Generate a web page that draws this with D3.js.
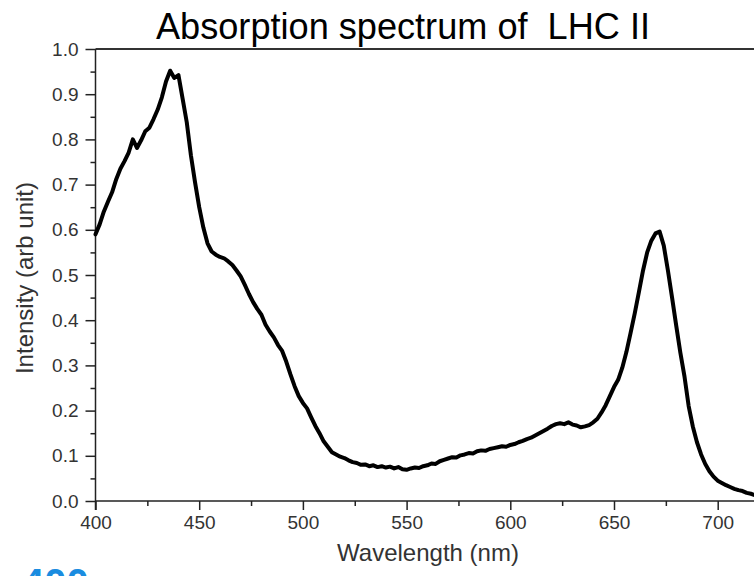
<!DOCTYPE html>
<html>
<head>
<meta charset="utf-8">
<script src="https://cdn.jsdelivr.net/npm/d3@7"></script>
<style>
  html, body { margin: 0; padding: 0; background: #fff; }
  svg { display: block; }
  text { font-family: "Liberation Sans", Arial, sans-serif; }
</style>
</head>
<body>
<svg id="chart" width="754" height="576"></svg>
<script>
// ---- data ----
const wavelength = [
  400,402,404,406,408,410,412,414,416,418,420,422,424,426,428,430,432,434,436,438,
  440,442,444,446,448,450,452,454,456,458,460,462,464,466,468,470,472,474,476,478,
  480,482,484,486,488,490,492,494,496,498,500,502,504,506,508,510,512,514,516,518,
  520,522,524,526,528,530,532,534,536,538,540,542,544,546,548,550,552,554,556,558,
  560,562,564,566,568,570,572,574,576,578,580,582,584,586,588,590,592,594,596,598,
  600,602,604,606,608,610,612,614,616,618,620,622,624,626,628,630,632,634,636,638,
  640,642,644,646,648,650,652,654,656,658,660,662,664,666,668,670,672,674,676,678,
  680,682,684,686,688,690,692,694,696,698,700,702,704,706,708,710,712,714,716,718
];
const intensity = [
  0.590,0.612,0.640,0.662,0.683,0.712,0.735,0.752,0.771,0.800,0.781,0.798,0.818,0.826,0.845,0.866,0.893,0.928,0.952,0.936,
  0.942,0.890,0.838,0.765,0.705,0.650,0.605,0.570,0.552,0.545,0.540,0.537,0.530,0.522,0.510,0.497,0.478,0.458,0.440,0.425,
  0.412,0.390,0.375,0.362,0.345,0.332,0.308,0.280,0.254,0.232,0.217,0.205,0.185,0.166,0.150,0.132,0.120,0.108,0.103,0.098,
  0.095,0.090,0.086,0.084,0.080,0.081,0.077,0.079,0.075,0.077,0.074,0.076,0.072,0.075,0.070,0.069,0.072,0.074,0.073,0.077,
  0.079,0.083,0.082,0.088,0.091,0.094,0.097,0.096,0.101,0.103,0.106,0.105,0.110,0.112,0.111,0.115,0.117,0.119,0.121,0.120,
  0.124,0.126,0.130,0.133,0.137,0.140,0.145,0.150,0.155,0.160,0.166,0.170,0.172,0.170,0.174,0.169,0.167,0.163,0.165,0.168,
  0.174,0.182,0.196,0.212,0.232,0.252,0.268,0.295,0.330,0.372,0.415,0.462,0.510,0.550,0.576,0.592,0.596,0.565,0.510,0.450,
  0.388,0.328,0.275,0.210,0.165,0.130,0.103,0.082,0.066,0.054,0.045,0.040,0.035,0.031,0.027,0.024,0.022,0.018,0.016,0.013
];
const xTicks = [400, 450, 500, 550, 600, 650, 700];
const xMinorTicks = [425, 475, 525, 575, 625, 675, 725];
const yTicks = [0.0, 0.1, 0.2, 0.3, 0.4, 0.5, 0.6, 0.7, 0.8, 0.9, 1.0];
const yMinorTicks = [0.05, 0.15, 0.25, 0.35, 0.45, 0.55, 0.65, 0.75, 0.85, 0.95];
const titleText = "Absorption spectrum of  LHC II";
const xLabel = "Wavelength (nm)";
const yLabel = "Intensity (arb unit)";
const cornerText = "400";

// ---- layout ----
const svg = d3.select("#chart");
const plotLeft = 95.5, plotTop = 49, plotBottom = 501;
const x = d3.scaleLinear().domain([400, 700]).range([plotLeft, 717.7]);
const xEnd = x(722);
const y = d3.scaleLinear().domain([0, 1]).range([plotBottom, plotTop]);
const axisColor = "#222";
const labelColor = "#333";

// top frame line
svg.append("line")
  .attr("x1", plotLeft).attr("x2", xEnd).attr("y1", plotTop).attr("y2", plotTop)
  .attr("stroke", "#333").attr("stroke-width", 2);

// x axis
const gx = svg.append("g").attr("transform", `translate(0,${plotBottom})`);
gx.call(d3.axisBottom(x).tickValues(xTicks).tickSize(9).tickSizeOuter(0).tickPadding(6).tickFormat(d3.format("d")));
gx.append("g").call(d3.axisBottom(x).tickValues(xMinorTicks).tickSize(5).tickFormat(""))
  .select(".domain").remove();
gx.select(".domain").attr("d", `M${plotLeft},0H${xEnd}`);
gx.selectAll("path,line").attr("stroke", axisColor).attr("stroke-width", 1.5);
gx.selectAll("text").attr("font-size", 19).attr("fill", labelColor)
  .attr("font-family", "'Liberation Sans', Arial, sans-serif");

// y axis
const gy = svg.append("g").attr("transform", `translate(${plotLeft},0)`);
gy.call(d3.axisLeft(y).tickValues(yTicks).tickSize(10).tickSizeOuter(0).tickPadding(7).tickFormat(d3.format(".1f")));
gy.append("g").call(d3.axisLeft(y).tickValues(yMinorTicks).tickSize(5).tickFormat(""))
  .select(".domain").remove();
gy.select(".domain").attr("d", `M0,${plotTop}V${plotBottom + 9}`);
gy.selectAll("path,line").attr("stroke", axisColor).attr("stroke-width", 1.5);
gy.selectAll("text").attr("font-size", 19).attr("fill", labelColor)
  .attr("font-family", "'Liberation Sans', Arial, sans-serif");

// spectrum line
const pts = wavelength.map((w, i) => [w, intensity[i]]);
svg.append("path")
  .datum(pts)
  .attr("fill", "none")
  .attr("stroke", "#000")
  .attr("stroke-width", 4)
  .attr("stroke-linejoin", "round")
  .attr("stroke-linecap", "round")
  .attr("d", d3.line().x(d => x(d[0])).y(d => y(d[1])));

// title
svg.append("text")
  .attr("x", 156).attr("y", 39)
  .attr("font-size", 36)
  .attr("textLength", 494).attr("lengthAdjust", "spacingAndGlyphs")
  .attr("fill", "#000")
  .style("white-space", "pre")
  .text(titleText);

// axis labels
svg.append("text")
  .attr("x", 428).attr("y", 561)
  .attr("text-anchor", "middle")
  .attr("font-size", 24)
  .attr("fill", labelColor)
  .text(xLabel);

svg.append("text")
  .attr("transform", "translate(33,278) rotate(-90)")
  .attr("text-anchor", "middle")
  .attr("font-size", 24)
  .attr("fill", labelColor)
  .text(yLabel);

// blue corner number (partially cut off at the bottom edge, as in the reference)
svg.append("text")
  .attr("x", 22).attr("y", 597)
  .attr("font-size", 40)
  .attr("font-weight", "bold")
  .attr("fill", "#1a8ce0")
  .text(cornerText);
</script>
</body>
</html>
